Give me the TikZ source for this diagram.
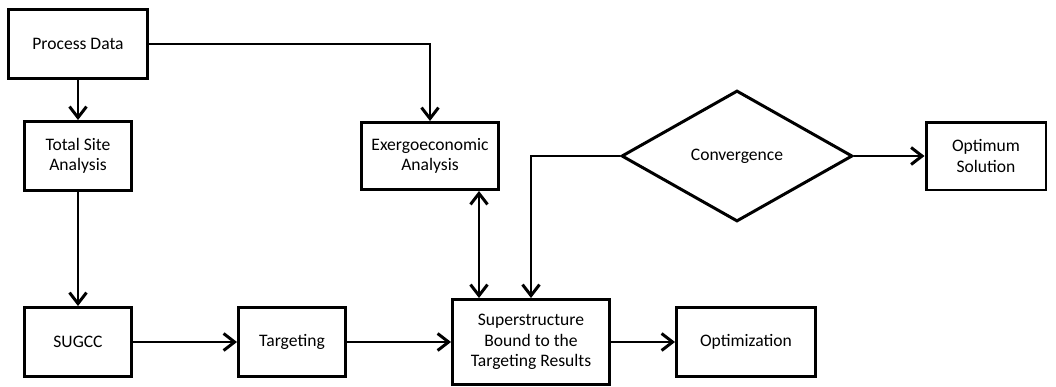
\documentclass[tikz,border=0pt]{standalone}
\usepackage{fontspec}
\setmainfont{Carlito}
\usetikzlibrary{arrows.meta,shapes.geometric}

\begin{document}
\begin{tikzpicture}[x=0.02cm,y=-0.02cm,>={Straight Barb[length=2.2mm,width=3.4mm]},line width=1.7pt,
 b/.style={draw,align=center,inner sep=1pt,font=\fontsize{10}{11.5}\selectfont},
 d/.style={draw,diamond,inner sep=0pt,minimum width=4.62cm,minimum height=2.62cm,font=\fontsize{10}{11.5}\selectfont}]
\useasboundingbox (0,0) rectangle (1056,386);
% Left column: data, site analysis, composite curves.
\node[b,minimum width=2.8cm,minimum height=1.38cm] (pd) at (78,44) {Process Data};
\node[b,minimum width=2.16cm,minimum height=1.38cm] (tsa) at (78,156) {Total Site\\Analysis};
\node[b,minimum width=2.14cm,minimum height=1.38cm] (sugcc) at (78,342) {SUGCC};
\node[b,minimum width=2.14cm,minimum height=1.38cm] (targ) at (292,342) {Targeting};
\node[b,minimum width=3.14cm,minimum height=1.7cm] (sup) at (531,342) {Superstructure\\Bound to the\\Targeting Results};
\node[b,minimum width=2.78cm,minimum height=1.38cm] (optz) at (746,342) {Optimization};
% Upper row: exergoeconomic check and convergence test.
\node[b,minimum width=2.74cm,minimum height=1.34cm] (exa) at (430,156) {Exergoeconomic\\Analysis};
\node[d] (conv) at (737,156) {Convergence};
\node[b,minimum width=2.4cm,minimum height=1.36cm] (osol) at (986,156) {Optimum\\Solution};
\coordinate (dx) at (479,0);
\draw[->] (pd.south) -- (tsa.north);
\draw[->] (pd.east) -| (exa.north);
\draw[->] (tsa.south) -- (sugcc.north);
\draw[->] (sugcc.east) -- (targ.west);
\draw[->] (targ.east) -- (sup.west);
\draw[->] (sup.east) -- (optz.west);
\draw[<->] (exa.south -| dx) -- (sup.north -| dx);
\draw[->] (conv.west) -| (sup.north);
\draw[->] (conv.east) -- (osol.west);
\end{tikzpicture}
\end{document}
